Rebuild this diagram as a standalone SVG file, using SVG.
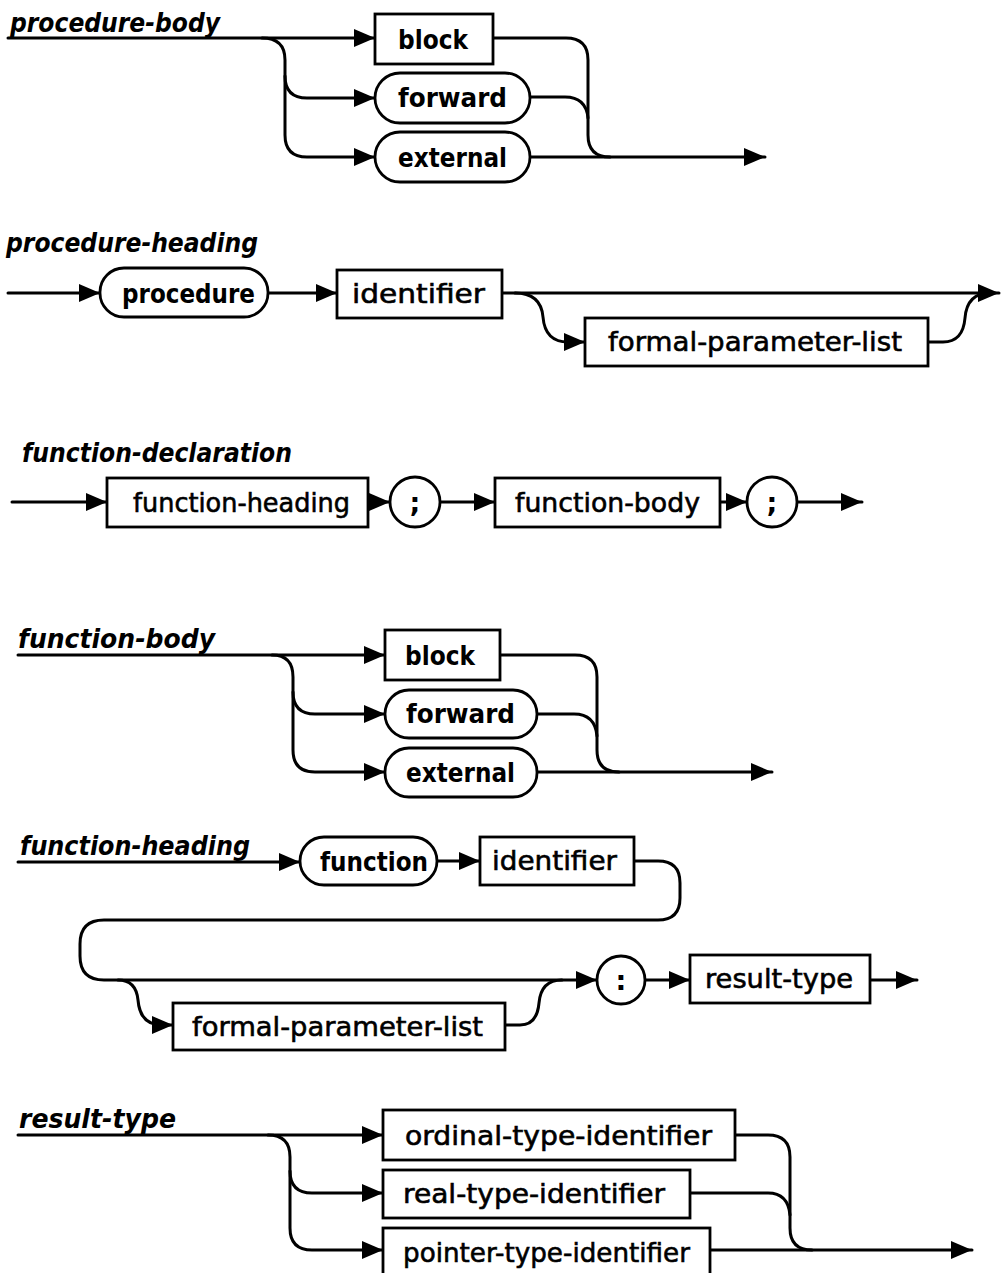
<svg xmlns="http://www.w3.org/2000/svg" width="1001" height="1273" viewBox="0 0 1001 1273">
<style>
.bg{fill:#fff}
.c{fill:none;stroke:#000;stroke-width:3;stroke-linecap:round;stroke-linejoin:round}
.b{fill:#fff;stroke:#000;stroke-width:2.8}
.t{font-family:"DejaVu Sans","Liberation Sans",sans-serif;font-size:27px;fill:#000;stroke:#000;stroke-width:0.6}
.k{font-family:"DejaVu Sans","Liberation Sans",sans-serif;font-size:27px;font-weight:bold;fill:#000}
.h{font-family:"DejaVu Sans","Liberation Sans",sans-serif;font-size:26px;font-style:italic;font-weight:bold;fill:#000}
</style>
<defs>
<marker id="ah" markerUnits="userSpaceOnUse" markerWidth="22" markerHeight="20" refX="21" refY="10" orient="auto" viewBox="0 0 22 20">
<path d="M0,1 L21,10 L0,19 z" fill="#000"/>
</marker>
</defs>
<rect class="bg" x="0" y="0" width="1001" height="1273"/>

<g id="connectors">
<!-- procedure-body -->
<path class="c" d="M8,38 H375" marker-end="url(#ah)"/>
<path class="c" d="M262,38 Q285,38 285,60 V76 Q285,98 307,98 H375" marker-end="url(#ah)"/>
<path class="c" d="M285,76 V135 Q285,157 307,157 H375" marker-end="url(#ah)"/>
<path class="c" d="M493,38 H566 Q588,38 588,60 V135 Q588,157 610,157"/>
<path class="c" d="M530,97 H565 Q586,97 588,118"/>
<path class="c" d="M530,157 H765" marker-end="url(#ah)"/>
<!-- procedure-heading -->
<path class="c" d="M8,293 H100" marker-end="url(#ah)"/>
<path class="c" d="M268,293 H337" marker-end="url(#ah)"/>
<path class="c" d="M502,293 H999" marker-end="url(#ah)"/>
<path class="c" d="M515,293 Q541,293 543,317 Q545,342 568,342 H585" marker-end="url(#ah)"/>
<path class="c" d="M928,342 H943 Q963,342 965,318 Q967,293 990,293"/>
<!-- function-declaration -->
<path class="c" d="M12,502 H107" marker-end="url(#ah)"/>
<path class="c" d="M368,502 H390" marker-end="url(#ah)"/>
<path class="c" d="M440,502 H495" marker-end="url(#ah)"/>
<path class="c" d="M720,502 H747" marker-end="url(#ah)"/>
<path class="c" d="M797,502 H862" marker-end="url(#ah)"/>
<!-- function-body -->
<path class="c" d="M18,655 H385" marker-end="url(#ah)"/>
<path class="c" d="M272,655 Q293,655 293,677 V692 Q293,714 315,714 H385" marker-end="url(#ah)"/>
<path class="c" d="M293,692 V750 Q293,772 315,772 H385" marker-end="url(#ah)"/>
<path class="c" d="M500,655 H575 Q597,655 597,677 V750 Q597,772 619,772"/>
<path class="c" d="M537,714 H574 Q595,714 597,736"/>
<path class="c" d="M537,772 H772" marker-end="url(#ah)"/>
<!-- function-heading -->
<path class="c" d="M18,862 H300" marker-end="url(#ah)"/>
<path class="c" d="M437,861 H480" marker-end="url(#ah)"/>
<path class="c" d="M634,861 H658 Q680,861 680,883 V898 Q680,920 658,920 H104 Q80,920 80,944 V956 Q80,980 104,980 H597" marker-end="url(#ah)"/>
<path class="c" d="M118,980 Q136,980 138,1000 Q140,1025 162,1025 H173" marker-end="url(#ah)"/>
<path class="c" d="M505,1025 H520 Q537,1025 539,1003 Q541,980 562,980"/>
<path class="c" d="M645,980 H690" marker-end="url(#ah)"/>
<path class="c" d="M870,980 H917" marker-end="url(#ah)"/>
<!-- result-type -->
<path class="c" d="M18,1135 H383" marker-end="url(#ah)"/>
<path class="c" d="M268,1135 Q290,1135 290,1157 V1171 Q290,1193 312,1193 H383" marker-end="url(#ah)"/>
<path class="c" d="M290,1171 V1228 Q290,1250 312,1250 H383" marker-end="url(#ah)"/>
<path class="c" d="M735,1135 H768 Q790,1135 790,1157 V1228 Q790,1250 812,1250"/>
<path class="c" d="M690,1193 H768 Q788,1193 790,1215"/>
<path class="c" d="M710,1250 H972" marker-end="url(#ah)"/>
</g>

<!-- titles -->
<g id="title-procedure-body"><text class="h" x="10" y="32" textLength="210" lengthAdjust="spacingAndGlyphs">procedure-body</text></g>
<g id="title-procedure-heading"><text class="h" x="6" y="252" textLength="252" lengthAdjust="spacingAndGlyphs">procedure-heading</text></g>
<g id="title-function-declaration"><text class="h" x="22" y="462" textLength="270" lengthAdjust="spacingAndGlyphs">function-declaration</text></g>
<g id="title-function-body"><text class="h" x="18" y="648" textLength="197" lengthAdjust="spacingAndGlyphs">function-body</text></g>
<g id="title-function-heading"><text class="h" x="20" y="855" textLength="230" lengthAdjust="spacingAndGlyphs">function-heading</text></g>
<g id="title-result-type"><text class="h" x="19" y="1128" textLength="157" lengthAdjust="spacingAndGlyphs">result-type</text></g>

<!-- procedure-body -->
<g id="pb-block"><rect class="b" x="375" y="14" width="118" height="50"/><text class="k" x="398" y="49" textLength="70" lengthAdjust="spacingAndGlyphs">block</text></g>
<g id="pb-forward"><rect class="b" x="375" y="73" width="155" height="50" rx="25"/><text class="k" x="398" y="107" textLength="109" lengthAdjust="spacingAndGlyphs">forward</text></g>
<g id="pb-external"><rect class="b" x="375" y="132" width="155" height="50" rx="25"/><text class="k" x="398" y="167" textLength="109" lengthAdjust="spacingAndGlyphs">external</text></g>

<!-- procedure-heading -->
<g id="ph-procedure"><rect class="b" x="100" y="268" width="168" height="49" rx="24"/><text class="k" x="122" y="303" textLength="133" lengthAdjust="spacingAndGlyphs">procedure</text></g>
<g id="ph-identifier"><rect class="b" x="337" y="270" width="165" height="48"/><text class="t" x="352" y="303" textLength="133" lengthAdjust="spacingAndGlyphs">identifier</text></g>
<g id="ph-formal-parameter-list"><rect class="b" x="585" y="318" width="343" height="48"/><text class="t" x="608" y="351" textLength="294" lengthAdjust="spacingAndGlyphs">formal-parameter-list</text></g>

<!-- function-declaration -->
<g id="fd-function-heading"><rect class="b" x="107" y="478" width="261" height="49"/><text class="t" x="133" y="512" textLength="217" lengthAdjust="spacingAndGlyphs">function-heading</text></g>
<g id="fd-semicolon-1"><circle class="b" cx="415" cy="502" r="25"/><text class="k" x="415" y="512" text-anchor="middle">;</text></g>
<g id="fd-function-body"><rect class="b" x="495" y="478" width="225" height="49"/><text class="t" x="515" y="512" textLength="185" lengthAdjust="spacingAndGlyphs">function-body</text></g>
<g id="fd-semicolon-2"><circle class="b" cx="772" cy="502" r="25"/><text class="k" x="772" y="512" text-anchor="middle">;</text></g>

<!-- function-body -->
<g id="fb-block"><rect class="b" x="385" y="630" width="115" height="50"/><text class="k" x="405" y="665" textLength="70" lengthAdjust="spacingAndGlyphs">block</text></g>
<g id="fb-forward"><rect class="b" x="385" y="690" width="152" height="48" rx="24"/><text class="k" x="406" y="723" textLength="109" lengthAdjust="spacingAndGlyphs">forward</text></g>
<g id="fb-external"><rect class="b" x="385" y="748" width="152" height="49" rx="24"/><text class="k" x="406" y="782" textLength="109" lengthAdjust="spacingAndGlyphs">external</text></g>

<!-- function-heading -->
<g id="fh-function"><rect class="b" x="300" y="837" width="137" height="48" rx="24"/><text class="k" x="320" y="871" textLength="108" lengthAdjust="spacingAndGlyphs">function</text></g>
<g id="fh-identifier"><rect class="b" x="480" y="837" width="154" height="48"/><text class="t" x="492" y="870" textLength="125" lengthAdjust="spacingAndGlyphs">identifier</text></g>
<g id="fh-formal-parameter-list"><rect class="b" x="173" y="1003" width="332" height="47"/><text class="t" x="192" y="1036" textLength="291" lengthAdjust="spacingAndGlyphs">formal-parameter-list</text></g>
<g id="fh-colon"><circle class="b" cx="621" cy="980" r="24"/><text class="k" x="621" y="990" text-anchor="middle">:</text></g>
<g id="fh-result-type"><rect class="b" x="690" y="955" width="180" height="48"/><text class="t" x="705" y="988" textLength="148" lengthAdjust="spacingAndGlyphs">result-type</text></g>

<!-- result-type -->
<g id="rt-ordinal"><rect class="b" x="383" y="1110" width="352" height="50"/><text class="t" x="405" y="1145" textLength="307" lengthAdjust="spacingAndGlyphs">ordinal-type-identifier</text></g>
<g id="rt-real"><rect class="b" x="383" y="1170" width="307" height="48"/><text class="t" x="403" y="1203" textLength="262" lengthAdjust="spacingAndGlyphs">real-type-identifier</text></g>
<g id="rt-pointer"><rect class="b" x="383" y="1228" width="327" height="50"/><text class="t" x="403" y="1262" textLength="287" lengthAdjust="spacingAndGlyphs">pointer-type-identifier</text></g>
</svg>
